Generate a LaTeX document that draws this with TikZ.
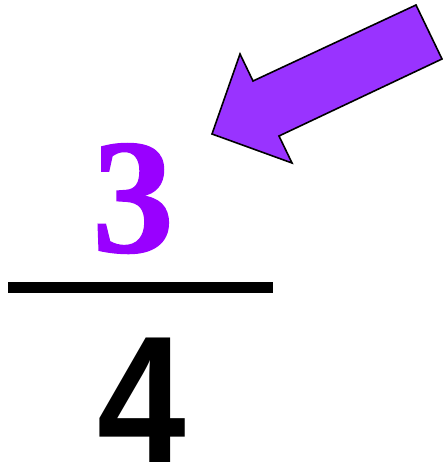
\documentclass[tikz,border=0pt]{standalone}
\usepackage{fontspec}
\setmainfont{Liberation Serif}
\newfontfamily\timesbold{Liberation Serif Bold}[FakeBold=0.8]
\newfontfamily\arialbold{Liberation Sans Bold}
\usepackage{xcolor}
\definecolor{numpurple}{HTML}{9900FF}
\definecolor{arrowpurple}{HTML}{9933FF}

\begin{document}
\begin{tikzpicture}[x=1pt, y=-1pt,
  numer/.style={inner sep=0, anchor=base, text=numpurple,
    font=\timesbold\fontsize{164}{164}\selectfont},
  denom/.style={inner sep=0, anchor=base, text=black, xscale=0.88, transform shape,
    font=\arialbold\fontsize{181}{181}\selectfont},
  fracbar/.style={line width=11pt, black},
  pointer/.style={draw=black, fill=arrowpurple, line width=1.6pt, line join=miter}
]
  \useasboundingbox (0,0) rectangle (443,468);

  \node[numer] (three) at (133,252) {3};
  \draw[fracbar] (8,287.5) -- (273,287.5);
  \node[denom] (four) at (142,462) {4};

  % block arrow pointing at the numerator
  \draw[pointer] (416,5) -- (442,59) -- (279,136) -- (292,163)
    -- (212,134) -- (240,54) -- (253,81) -- cycle;
\end{tikzpicture}
\end{document}
